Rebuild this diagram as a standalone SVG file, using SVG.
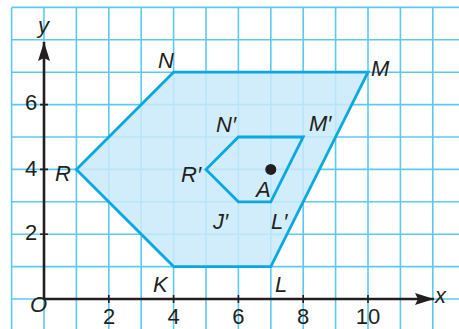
<svg xmlns="http://www.w3.org/2000/svg" width="459" height="329" viewBox="0 0 459 329">
<style>
.grid{stroke:#5cc9f0;stroke-width:1.6;fill:none}
.shape{stroke:#0aa8e3;stroke-width:2.8;stroke-linejoin:miter}
.axis{stroke:#231f20;stroke-width:2.6;fill:none}
.tick{stroke:#231f20;stroke-width:1.6}
.lbl{font-family:"Liberation Sans",Arial,sans-serif;font-size:22px;font-style:italic;fill:#231f20}
.num{font-family:"Liberation Sans",Arial,sans-serif;font-size:22px;fill:#231f20;text-anchor:middle}
</style>
<defs>
<marker id="arr" viewBox="0 0 19 12" refX="19" refY="6" markerWidth="19" markerHeight="12" markerUnits="userSpaceOnUse" orient="auto">
<path d="M0,0 L19,6 L0,12 L3,6 Z" fill="#231f20"/>
</marker>
</defs>
<rect width="459" height="329" fill="#fff"/>
<g id="grid" class="grid">
<path d="M11.6,7.4V329M44,7.4V329M76.4,7.4V329M108.8,7.4V329M141.2,7.4V329M173.6,7.4V329M206,7.4V329M238.4,7.4V329M270.8,7.4V329M303.2,7.4V329M335.6,7.4V329M368,7.4V329M400.4,7.4V329M432.8,7.4V329"/>
<path d="M11.6,7.4H459M11.6,39.8H459M11.6,72.2H459M11.6,104.6H459M11.6,137H459M11.6,169.4H459M11.6,201.8H459M11.6,234.2H459M11.6,266.6H459M11.6,299H459"/>
</g>
<g id="outer">
<polygon class="shape" points="173.6,72.2 368,72.2 270.8,266.6 173.6,266.6 76.4,169.4" fill="#c9eafa" fill-opacity="0.85"/>
</g>
<g id="inner">
<polygon class="shape" points="238.4,137 303.2,137 270.8,201.8 238.4,201.8 206,169.4" fill="none"/>
</g>
<g id="axes">
<path class="axis" d="M44,299V42" marker-end="url(#arr)"/>
<path class="axis" d="M44,299H434" marker-end="url(#arr)"/>
<path class="tick" d="M40,104.6H48M40,169.4H48M40,234.2H48M108.8,295V303M173.6,295V303M238.4,295V303M303.2,295V303M368,295V303"/>
</g>
<g id="A">
<circle cx="270.8" cy="169.4" r="5.5" fill="#231f20"/>
<text class="lbl" x="256" y="197">A</text>
</g>
<g id="labels">
<text class="lbl" x="158" y="68">N</text>
<text class="lbl" x="371" y="76">M</text>
<text class="lbl" x="275" y="292">L</text>
<text class="lbl" x="153" y="292">K</text>
<text class="lbl" x="55" y="181">R</text>
<text class="lbl" x="216" y="132">N′</text>
<text class="lbl" x="309" y="131">M′</text>
<text class="lbl" x="271" y="229">L′</text>
<text class="lbl" x="213" y="229">J′</text>
<text class="lbl" x="181" y="182">R′</text>
<text class="lbl" x="38" y="33" font-size="24">y</text>
<text class="lbl" x="435" y="303" font-size="24">x</text>
<text class="lbl" x="30" y="312" font-size="25">O</text>
<text class="num" x="31" y="110">6</text>
<text class="num" x="31" y="176">4</text>
<text class="num" x="31" y="240">2</text>
<text class="num" x="109" y="324">2</text>
<text class="num" x="173.6" y="324">4</text>
<text class="num" x="238.4" y="324">6</text>
<text class="num" x="303.2" y="324">8</text>
<text class="num" x="368" y="324">10</text>
</g>
</svg>
